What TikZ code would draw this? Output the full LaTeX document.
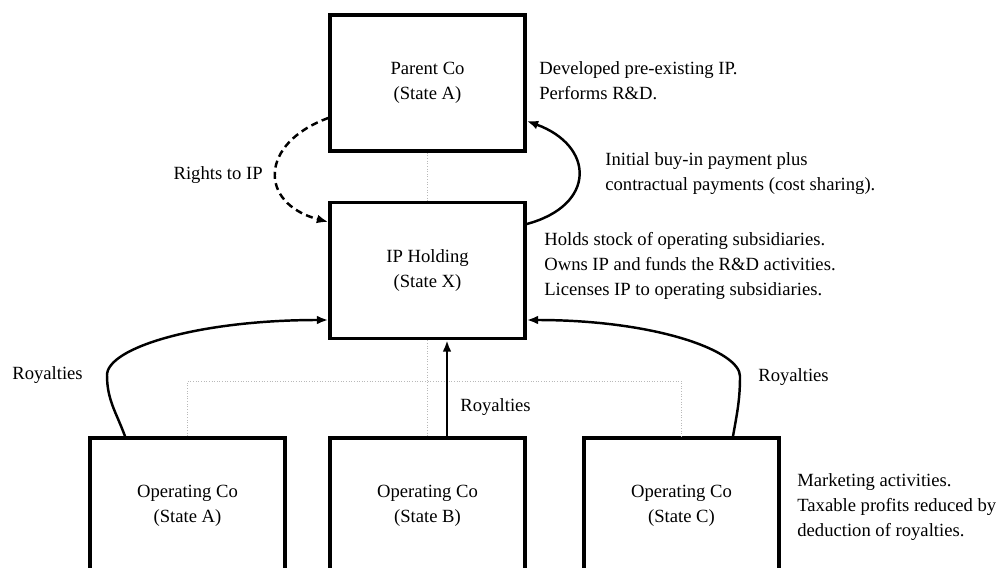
\documentclass[tikz,border=0pt]{standalone}
\usepackage{fontspec}
\setmainfont{Liberation Serif}
\usetikzlibrary{arrows.meta}

\begin{document}
\begin{tikzpicture}[
  every node/.style={font=\fontsize{10.6}{14.2}\selectfont},
  entity/.style={draw, line width=2pt, minimum width=3.9cm, minimum height=2.72cm, align=center},
  note/.style={anchor=west, align=left, inner sep=0pt},
  flow/.style={line width=1.4pt, -{Latex[length=6.5pt, width=5pt]}},
  tree/.style={gray!55, densely dotted, line width=0.5pt}
]
\useasboundingbox (0, 0) rectangle (19.98, 11.34);
\clip (0, 0) rectangle (19.98, 11.34);

\node[entity] (parent) at (8.55, 9.68) {Parent Co\\(State A)};
\node[entity] (ip) at (8.55, 5.93) {IP Holding\\(State X)};
\node[entity] (opA) at (3.75, 1.22) {Operating Co\\(State A)};
\node[entity] (opB) at (8.55, 1.22) {Operating Co\\(State B)};
\node[entity] (opC) at (13.63, 1.22) {Operating Co\\(State C)};

\draw[tree] (parent.south) -- (ip.north);
\draw[tree] (ip.south) -- (opB.north);
\draw[tree] (opA.north) -- ++(0, 1.1) -| (opC.north);

\draw[flow, dash pattern=on 4pt off 2.5pt] ([yshift=-0.7cm]parent.west) to[out=200, in=165, looseness=1.8] ([yshift=0.97cm]ip.west);
\draw[flow] ([yshift=0.93cm]ip.east) to[out=15, in=-20, looseness=1.8] ([yshift=-0.76cm]parent.east);
\draw[flow] ([xshift=-1.25cm]opA.north) to[out=110, in=-90] ++(-0.36, 1.22) .. controls +(0, 0.55) and +(-2.6, 0) .. ([yshift=-0.99cm]ip.west);
\draw[flow] ([xshift=1.03cm]opC.north) to[out=80, in=-90] ++(0.14, 1.2) .. controls +(0, 0.5) and +(2.6, 0) .. ([yshift=-0.99cm]ip.east);
\draw[flow] ([xshift=0.39cm]opB.north) -- ([xshift=0.39cm]ip.south);

\node[note, anchor=east] (rightsLbl) at (5.26, 7.84) {Rights to IP};
\node[note] (parentNote) at (10.78, 9.72) {Developed pre-existing IP.\\Performs R\&D.};
\node[note] (payNote) at (12.1, 7.86) {Initial buy-in payment plus\\contractual payments (cost sharing).};
\node[note] (ipNote) at (10.88, 6.02) {Holds stock of operating subsidiaries.\\Owns IP and funds the R\&D activities.\\Licenses IP to operating subsidiaries.};
\node[note] (opNote) at (15.94, 1.2) {Marketing activities.\\Taxable profits reduced by\\deduction of royalties.};
\node[note] (royA) at (0.24, 3.84) {Royalties};
\node[note] (royB) at (9.2, 3.2) {Royalties};
\node[note] (royC) at (15.16, 3.8) {Royalties};

\end{tikzpicture}
\end{document}
